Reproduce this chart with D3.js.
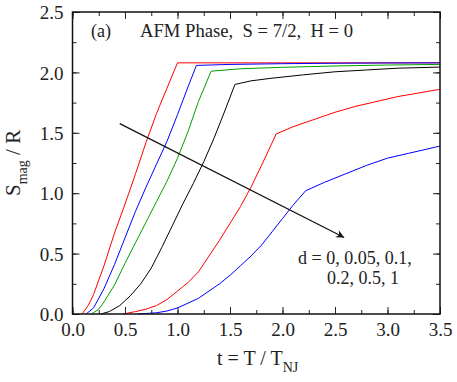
<!DOCTYPE html>
<html>
<head>
<meta charset="utf-8">
<script src="https://cdn.jsdelivr.net/npm/d3@7.9.0/dist/d3.min.js"></script>
<style>
  body { margin: 0; background: #fff; }
</style>
</head>
<body>
<svg id="chart" width="457" height="382" font-family="Liberation Serif"></svg>
<script>
// curve values, one pair of arrays per d
const dLabels = ['0', '0.05', '0.1', '0.2', '0.5', '1'];

const t_d0 = [0.09, 0.15, 0.2, 0.3, 0.4, 0.5, 0.6, 0.7, 0.8, 0.9, 1.0, 3.5];
const s_d0 = [0, 0.07, 0.16, 0.40, 0.67, 0.91, 1.16, 1.42, 1.66, 1.87, 2.079, 2.079];

const t_d005 = [0.13, 0.2, 0.3, 0.4, 0.5, 0.6, 0.7, 0.8, 0.9, 1.0, 1.1, 1.18, 1.5, 2.0, 2.5, 3.0, 3.5];
const s_d005 = [0, 0.05, 0.21, 0.41, 0.63, 0.85, 1.05, 1.24, 1.43, 1.65, 1.88, 2.058, 2.066, 2.072, 2.076, 2.078, 2.079];

const t_d01 = [0.18, 0.25, 0.3, 0.4, 0.5, 0.6, 0.7, 0.8, 0.9, 1.0, 1.1, 1.2, 1.32, 1.6, 2.0, 2.5, 3.0, 3.5];
const s_d01 = [0, 0.04, 0.10, 0.24, 0.42, 0.59, 0.76, 0.93, 1.10, 1.29, 1.51, 1.76, 2.01, 2.03, 2.042, 2.053, 2.061, 2.066];

const t_d02 = [0.27, 0.35, 0.45, 0.55, 0.65, 0.75, 0.85, 0.95, 1.05, 1.15, 1.25, 1.35, 1.45, 1.547, 1.7, 1.9, 2.2, 2.5, 2.8, 3.1, 3.5];
const s_d02 = [0, 0.02, 0.07, 0.15, 0.25, 0.38, 0.55, 0.73, 0.91, 1.08, 1.26, 1.46, 1.68, 1.90, 1.93, 1.952, 1.98, 2.005, 2.02, 2.035, 2.044];

const t_d05 = [0.48, 0.6, 0.7, 0.8, 0.9, 1.0, 1.1, 1.2, 1.3, 1.4, 1.5, 1.6, 1.7, 1.8, 1.94, 2.1, 2.3, 2.5, 2.7, 2.9, 3.1, 3.3, 3.5];
const s_d05 = [0, 0.02, 0.04, 0.07, 0.12, 0.19, 0.26, 0.35, 0.48, 0.61, 0.75, 0.89, 1.05, 1.23, 1.49, 1.55, 1.61, 1.67, 1.72, 1.76, 1.80, 1.83, 1.86];

const t_d1 = [0.62, 0.8, 0.9, 1.0, 1.1, 1.2, 1.3, 1.4, 1.5, 1.6, 1.7, 1.8, 1.9, 2.0, 2.1, 2.22, 2.4, 2.6, 2.8, 3.0, 3.2, 3.5];
const s_d1 = [0, 0.01, 0.025, 0.05, 0.09, 0.13, 0.19, 0.25, 0.32, 0.40, 0.48, 0.57, 0.68, 0.79, 0.90, 1.02, 1.09, 1.16, 1.23, 1.29, 1.33, 1.39];

const xTicks = [0, 0.5, 1, 1.5, 2, 2.5, 3, 3.5];
const yTicks = [0, 0.5, 1, 1.5, 2, 2.5];

// arrow across the curves, in data units
const arrowFrom = [0.45, 1.576];
const arrowTo = [2.587, 0.634];

const series = [
  { t: t_d0, s: s_d0, color: '#ff0000' },
  { t: t_d005, s: s_d005, color: '#0000ff' },
  { t: t_d01, s: s_d01, color: '#00a000' },
  { t: t_d02, s: s_d02, color: '#000000' },
  { t: t_d05, s: s_d05, color: '#ff0000' },
  { t: t_d1, s: s_d1, color: '#0000ff' },
];

const margin = { top: 12, right: 17, bottom: 68, left: 72.5 };
const width = 457, height = 382;
const svg = d3.select('#chart');

const x = d3.scaleLinear().domain([0, 3.5]).range([margin.left, width - margin.right]);
const y = d3.scaleLinear().domain([0, 2.5]).range([height - margin.bottom, margin.top]);

const minorX = d3.range(0, 3.51, 0.25);
const minorY = d3.range(0, 2.51, 0.25);

// ticks on all four sides, pointing in
function tickSet(g, axis, vals, size, labels) {
  g.call(axis.tickValues(vals).tickSize(size).tickSizeOuter(0)
    .tickFormat(labels ? d3.format('.1f') : ''));
  g.attr('font-family', 'Liberation Serif').attr('font-size', 19);
  g.select('.domain').remove();
  g.selectAll('.tick line').attr('stroke', '#222').attr('stroke-width', 1);
  return g;
}

const bottomY = height - margin.bottom;
const rightX = width - margin.right;

tickSet(svg.append('g').attr('transform', `translate(0,${bottomY})`), d3.axisBottom(x), minorX, -4, false);
const xAxisG = tickSet(svg.append('g').attr('transform', `translate(0,${bottomY})`), d3.axisBottom(x), xTicks, -7, true);
tickSet(svg.append('g').attr('transform', `translate(0,${margin.top})`), d3.axisTop(x), minorX, -4, false);
tickSet(svg.append('g').attr('transform', `translate(0,${margin.top})`), d3.axisTop(x), xTicks, -7, false);
tickSet(svg.append('g').attr('transform', `translate(${margin.left},0)`), d3.axisLeft(y), minorY, -4, false);
const yAxisG = tickSet(svg.append('g').attr('transform', `translate(${margin.left},0)`), d3.axisLeft(y), yTicks, -7, true);
tickSet(svg.append('g').attr('transform', `translate(${rightX},0)`), d3.axisRight(y), minorY, -4, false);
tickSet(svg.append('g').attr('transform', `translate(${rightX},0)`), d3.axisRight(y), yTicks, -7, false);

xAxisG.selectAll('.tick text').attr('y', 9).attr('dy', '0.71em');
yAxisG.selectAll('.tick text').attr('x', -9).attr('dy', '0.35em');

// curves
const line = d3.line().x(d => x(d[0])).y(d => y(d[1]));
series.forEach(sr => {
  svg.append('path')
    .attr('d', line(d3.zip(sr.t, sr.s)))
    .attr('fill', 'none')
    .attr('stroke', sr.color)
    .attr('stroke-width', 1);
});

// frame
svg.append('rect')
  .attr('x', margin.left).attr('y', margin.top)
  .attr('width', rightX - margin.left).attr('height', bottomY - margin.top)
  .attr('fill', 'none').attr('stroke', '#111').attr('stroke-width', 1.5);

// arrow
svg.append('defs').append('marker')
  .attr('id', 'head').attr('viewBox', '0 0 10 10')
  .attr('refX', 10).attr('refY', 5)
  .attr('markerWidth', 10).attr('markerHeight', 8)
  .attr('markerUnits', 'userSpaceOnUse')
  .attr('orient', 'auto')
  .append('path').attr('d', 'M0,0 L10,5 L0,10 L3,5 Z').attr('fill', '#111');

svg.append('line')
  .attr('x1', x(arrowFrom[0])).attr('y1', y(arrowFrom[1]))
  .attr('x2', x(arrowTo[0])).attr('y2', y(arrowTo[1]))
  .attr('stroke', '#111').attr('stroke-width', 1.2)
  .attr('marker-end', 'url(#head)');

// annotation text, two lines
svg.append('text').attr('x', 298).attr('y', 264).attr('font-size', 18)
  .text(`d = ${dLabels.slice(0, 3).join(', ')},`);
svg.append('text').attr('x', 327).attr('y', 284).attr('font-size', 18)
  .text(dLabels.slice(3).join(', '));

// panel title
svg.append('text').attr('x', 91).attr('y', 37).attr('font-size', 18).text('(a)');
svg.append('text').attr('x', 140).attr('y', 37).attr('font-size', 18)
  .attr('textLength', 213).attr('lengthAdjust', 'spacingAndGlyphs')
  .style('white-space', 'pre')
  .text('AFM Phase,  S = 7/2,  H = 0');

// axis titles
const xl = svg.append('text').attr('x', 217).attr('y', 365).attr('font-size', 20);
xl.append('tspan').text('t = T / T');
xl.append('tspan').attr('dy', 7).attr('font-size', 14).text('NJ');

const yl = svg.append('text')
  .attr('transform', 'translate(20,196) rotate(-90)')
  .attr('font-size', 21);
yl.append('tspan').text('S');
yl.append('tspan').attr('dy', 7).attr('font-size', 14).text('mag');
yl.append('tspan').attr('dy', -7).text(' / R');

svg.selectAll('text')
  .attr('font-family', 'Liberation Serif')
  .style('font-family', "'Liberation Serif'")
  .attr('fill', '#222');
</script>
</body>
</html>
